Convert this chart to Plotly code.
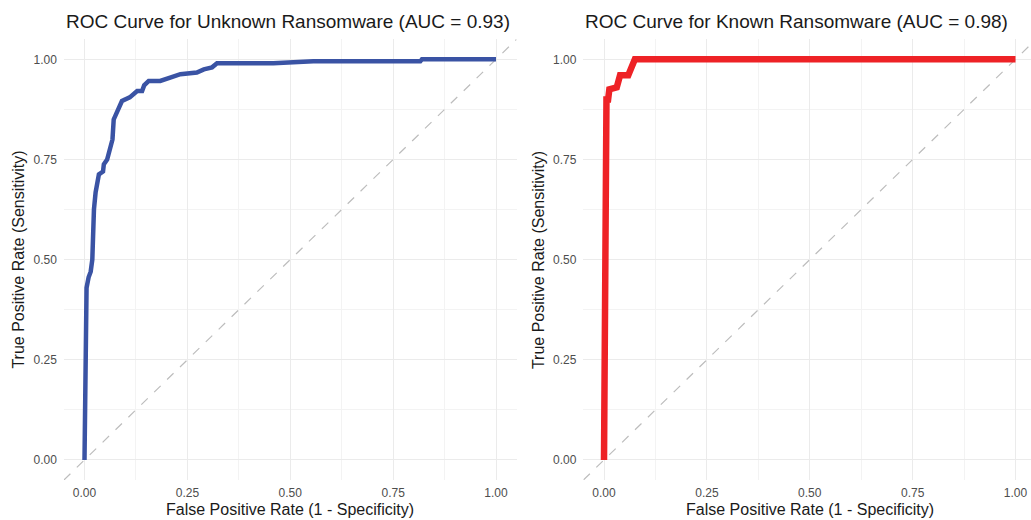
import plotly.graph_objects as go

# ---- data ----
unknown_fpr = [0.0, 0.002, 0.003, 0.005, 0.010, 0.015, 0.019, 0.020, 0.023, 0.027, 0.031, 0.035,
               0.045, 0.047, 0.055, 0.063, 0.068, 0.071, 0.080, 0.091, 0.110, 0.128, 0.140,
               0.145, 0.156, 0.184, 0.210, 0.233, 0.273, 0.290, 0.310, 0.322, 0.459, 0.556,
               0.816, 0.820, 1.0]
unknown_tpr = [0.0, 0.14, 0.32, 0.43, 0.456, 0.47, 0.50, 0.568, 0.626, 0.668, 0.70, 0.713,
               0.72, 0.738, 0.75, 0.776, 0.80, 0.85, 0.87, 0.896, 0.905, 0.921, 0.921,
               0.935, 0.946, 0.946, 0.955, 0.963, 0.967, 0.975, 0.98, 0.99, 0.99, 0.995,
               0.995, 1.0, 1.0]

known_fpr = [0.0, 0.003, 0.006, 0.010, 0.013, 0.031, 0.039, 0.059, 0.075, 1.0]
known_tpr = [0.0, 0.50, 0.90, 0.90, 0.925, 0.93, 0.96, 0.96, 1.0, 1.0]

diag = [-0.05, 1.05]
tick_vals = [0.0, 0.25, 0.5, 0.75, 1.0]
tick_text = ["0.00", "0.25", "0.50", "0.75", "1.00"]

titles = ["ROC Curve for Unknown Ransomware (AUC = 0.93)",
          "ROC Curve for Known Ransomware (AUC = 0.98)"]
x_title = "False Positive Rate (1 - Specificity)"
y_title = "True Positive Rate (Sensitivity)"

W, H = 1031, 520
FONT = "Liberation Sans, Arial, sans-serif"

# panel geometry (pixels)
x0_left, x0_right, unit = 84.5, 604.0, 411.5
y_bot_px, y_top_px = 480.0, 39.3

def px(v):
    return v / W

left_dom = [px(x0_left - 0.05 * unit), px(x0_left + 1.05 * unit)]
right_dom = [px(x0_right - 0.05 * unit), 1.0]
right_max = (W - x0_right) / unit
y_dom = [(H - y_bot_px) / H, (H - y_top_px) / H]

fig = go.Figure()

for xa, ya in [("x", "y"), ("x2", "y2")]:
    fig.add_trace(go.Scatter(x=diag, y=diag, mode="lines", xaxis=xa, yaxis=ya,
                             line=dict(color="#BDBDBD", width=1.2, dash="dash"),
                             hoverinfo="skip", showlegend=False))

fig.add_trace(go.Scatter(x=unknown_fpr, y=unknown_tpr, mode="lines", xaxis="x", yaxis="y",
                         line=dict(color="#3A53A4", width=4.5), showlegend=False))
fig.add_trace(go.Scatter(x=known_fpr, y=known_tpr, mode="lines", xaxis="x2", yaxis="y2",
                         line=dict(color="#EE2226", width=6.5), showlegend=False))

axis_common = dict(
    tickvals=tick_vals, ticktext=tick_text, showline=False, zeroline=False,
    showgrid=True, gridcolor="#EBEBEB", gridwidth=1, ticks="",
    tickfont=dict(family=FONT, size=12, color="#4D4D4D"),
    minor=dict(tickvals=[0.125, 0.375, 0.625, 0.875], showgrid=True,
               gridcolor="#F3F3F3", gridwidth=1),
    automargin=False, fixedrange=True,
)

fig.update_layout(
    width=W, height=H,
    margin=dict(l=0, r=0, t=0, b=0),
    paper_bgcolor="white", plot_bgcolor="white",
    font=dict(family=FONT),
    xaxis=dict(axis_common, domain=left_dom, range=[-0.05, 1.05], anchor="y",
               ticklabelstandoff=4),
    yaxis=dict(axis_common, domain=y_dom, range=[-0.05, 1.05], anchor="x",
               ticklabelstandoff=6),
    xaxis2=dict(axis_common, domain=right_dom, range=[-0.05, right_max], anchor="y2",
                ticklabelstandoff=4),
    yaxis2=dict(axis_common, domain=y_dom, range=[-0.05, 1.05], anchor="x2",
                ticklabelstandoff=6),
)

annotations = []
for i, (dom, x0) in enumerate([(left_dom, x0_left), (right_dom, x0_right)]):
    annotations.append(dict(text=titles[i], xref="paper", yref="paper",
                            x=dom[0], y=(H - 22) / H, xanchor="left", yanchor="middle",
                            showarrow=False, font=dict(family=FONT, size=19, color="#1A1A1A")))
    annotations.append(dict(text=x_title, xref="paper", yref="paper",
                            x=(x0 + 0.5 * unit) / W, y=(H - 509) / H, xanchor="center",
                            yanchor="middle", showarrow=False,
                            font=dict(family=FONT, size=16, color="#1A1A1A")))
    annotations.append(dict(text=y_title, xref="paper", yref="paper",
                            x=(dom[0] * W - 45) / W, y=(H - (y_bot_px + y_top_px) / 2) / H,
                            xanchor="center", yanchor="middle", textangle=-90, showarrow=False,
                            font=dict(family=FONT, size=16, color="#1A1A1A")))
fig.update_layout(annotations=annotations)

fig.write_html("out.html", config={"displayModeBar": False},
               post_script="document.body.style.margin='0';document.body.style.overflow='hidden';")
